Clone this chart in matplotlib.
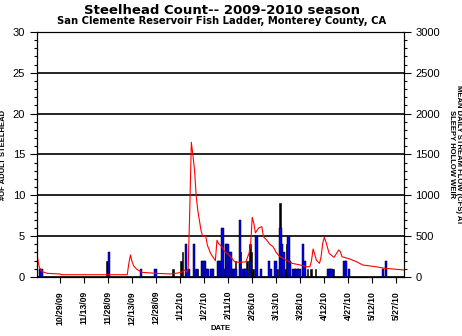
import datetime as dt
import matplotlib
matplotlib.use("Agg")
import matplotlib.pyplot as plt
import matplotlib.dates as mdates
from matplotlib.ticker import MultipleLocator

plt.rcParams['font.family'] = ['Liberation Sans', 'DejaVu Sans']

# ---- data ----
# black bar series (fish count per day)
black_dates = ["2009-11-28", "2010-01-08", "2010-01-13", "2010-01-14", "2010-01-17",
               "2010-01-22", "2010-01-23", "2010-02-16", "2010-02-19", "2010-02-23",
               "2010-02-25", "2010-02-26", "2010-02-27", "2010-03-14", "2010-03-16",
               "2010-03-19", "2010-03-20", "2010-03-31", "2010-04-02", "2010-04-04",
               "2010-04-07", "2010-04-18"]
black_counts = [2, 1, 2, 3, 1,
                1, 1, 2, 3, 2,
                4, 3, 1, 1, 9,
                1, 4, 1, 1, 1,
                1, 1]

# blue bar series
blue_dates = ["2009-10-16", "2009-10-17", "2009-11-28", "2009-12-18", "2009-12-27",
              "2010-01-15", "2010-01-17", "2010-01-20", "2010-01-22", "2010-01-25",
              "2010-01-26", "2010-01-27", "2010-01-28", "2010-01-29", "2010-01-31",
              "2010-02-01", "2010-02-04", "2010-02-05", "2010-02-06", "2010-02-07",
              "2010-02-08", "2010-02-09", "2010-02-10", "2010-02-11", "2010-02-12",
              "2010-02-13", "2010-02-14", "2010-02-15", "2010-02-18", "2010-02-20",
              "2010-02-21", "2010-02-22", "2010-02-24", "2010-02-28", "2010-03-03",
              "2010-03-08", "2010-03-09", "2010-03-12", "2010-03-15", "2010-03-16",
              "2010-03-17", "2010-03-20", "2010-03-21", "2010-03-23", "2010-03-24",
              "2010-03-25", "2010-03-26", "2010-03-27", "2010-03-29", "2010-03-30",
              "2010-04-14", "2010-04-15", "2010-04-16", "2010-04-24", "2010-04-25",
              "2010-04-27", "2010-05-18", "2010-05-20"]
blue_counts = [1, 1, 3, 1, 1,
               4, 1, 4, 1, 2,
               2, 2, 1, 1, 1,
               1, 2, 2, 2, 6,
               1, 4, 4, 3, 3,
               1, 1, 1, 7, 1,
               1, 1, 2, 5, 1,
               2, 1, 2, 6, 4,
               3, 5, 2, 1, 1,
               1, 1, 1, 4, 2,
               1, 1, 1, 2, 2,
               1, 1, 2]

# mean daily stream flow (cfs)
flow_dates = ["2009-10-15", "2009-10-16", "2009-10-17", "2009-10-18", "2009-10-21",
              "2009-10-29", "2009-10-30", "2009-12-10", "2009-12-11", "2009-12-12",
              "2009-12-13", "2009-12-14", "2009-12-16", "2009-12-19", "2009-12-28",
              "2010-01-06", "2010-01-11", "2010-01-13", "2010-01-15", "2010-01-16",
              "2010-01-17", "2010-01-18", "2010-01-19", "2010-01-20", "2010-01-21",
              "2010-01-22", "2010-01-23", "2010-01-25", "2010-01-26", "2010-01-28",
              "2010-01-29", "2010-01-31", "2010-02-02", "2010-02-03", "2010-02-04",
              "2010-02-05", "2010-02-07", "2010-02-09", "2010-02-12", "2010-02-15",
              "2010-02-18", "2010-02-22", "2010-02-24", "2010-02-25", "2010-02-26",
              "2010-02-27", "2010-02-28", "2010-03-02", "2010-03-04", "2010-03-05",
              "2010-03-07", "2010-03-09", "2010-03-11", "2010-03-13", "2010-03-15",
              "2010-03-19", "2010-03-23", "2010-03-28", "2010-04-01", "2010-04-03",
              "2010-04-04", "2010-04-05", "2010-04-06", "2010-04-07", "2010-04-09",
              "2010-04-10", "2010-04-11", "2010-04-12", "2010-04-13", "2010-04-15",
              "2010-04-18", "2010-04-20", "2010-04-21", "2010-04-22", "2010-04-23",
              "2010-04-28", "2010-05-02", "2010-05-06", "2010-05-14", "2010-05-20",
              "2010-05-27", "2010-06-01"]
flow_cfs = [240, 126, 86, 65, 45,
            37, 28, 28, 167, 270,
            190, 135, 94, 57, 45,
            37, 50, 60, 86, 60,
            90, 800, 1650, 1490, 1310,
            1000, 820, 575, 500, 500,
            390, 290, 230, 200, 450,
            410, 370, 310, 257, 187,
            180, 185, 290, 390, 730,
            660, 540, 600, 616, 494,
            453, 400, 371, 300, 255,
            208, 167, 147, 126, 126,
            200, 343, 280, 208, 167,
            250, 412, 486, 430, 290,
            241, 300, 331, 310, 249,
            220, 188, 147, 126, 106,
            94, 86]

tick_labels = ["10/29/09", "11/13/09", "11/28/09", "12/13/09", "12/28/09",
               "1/12/10", "1/27/10", "2/11/10", "2/26/10", "3/13/10",
               "3/28/10", "4/12/10", "4/27/10", "5/12/10", "5/27/10"]


def to_num(strs):
    return [mdates.date2num(dt.datetime.strptime(s, "%Y-%m-%d")) for s in strs]


bx = to_num(black_dates)
ux = to_num(blue_dates)
fx = to_num(flow_dates)
tick_pos = [mdates.date2num(dt.datetime.strptime(t, "%m/%d/%y")) for t in tick_labels]

fig = plt.figure(figsize=(4.62, 3.36), dpi=100)
ax = fig.add_axes([0.080, 0.1756, 0.794, 0.7292])

ax.bar([x - 0.45 for x in bx], black_counts, width=1.1, color='black',
       edgecolor='black', linewidth=0.4, zorder=2)
ax.bar([x + 0.55 for x in ux], blue_counts, width=1.5, color='#0000ff',
       edgecolor='black', linewidth=0.35, zorder=2)

ax.set_xlim(tick_pos[0] - 14.35, tick_pos[0] + 214.6)
ax.set_ylim(0, 30)
ax.yaxis.set_major_locator(MultipleLocator(5))
ax.yaxis.set_minor_locator(MultipleLocator(1))
ax.grid(axis='y', which='major', color='black', linewidth=1.2, zorder=0)
ax.set_axisbelow(True)
ax.set_xticks(tick_pos)
ax.set_xticklabels(tick_labels, rotation=90, fontsize=6.2, fontweight='bold')
ax.tick_params(axis='x', length=4, width=0.8, pad=6)
ax.tick_params(axis='y', which='major', length=5, width=0.8, labelsize=8)
ax.tick_params(axis='y', which='minor', length=2.5, width=0.8)
ax.set_ylabel("#OF ADULT STEELHEAD", fontsize=5.5, fontweight='bold', labelpad=4)
for s in ax.spines.values():
    s.set_linewidth(0.8)
fig.text(0.477, 0.012, "DATE", ha='center', va='bottom', fontsize=5.5, fontweight='bold')

# flow on the right axis
ax2 = ax.twinx()
ax2.plot(fx, flow_cfs, color='red', linewidth=0.8)
ax2.set_ylim(0, 3000)
ax2.yaxis.set_major_locator(MultipleLocator(500))
ax2.yaxis.set_minor_locator(MultipleLocator(100))
ax2.tick_params(axis='y', which='major', length=5, width=0.8, labelsize=8)
ax2.tick_params(axis='y', which='minor', length=2.5, width=0.8)
ax2.set_ylabel("MEAN DAILY STREAM FLOW (CFS) AT\nSLEEPY HOLLOW WEIR", fontsize=5.5,
               fontweight='bold', rotation=270, labelpad=16, linespacing=1.0)

fig.text(0.48, 0.958, "Steelhead Count-- 2009-2010 season", ha='center',
         fontsize=9.5, fontweight='bold', family='DejaVu Sans')
fig.text(0.48, 0.928, "San Clemente Reservoir Fish Ladder, Monterey County, CA",
         ha='center', fontsize=7.2, fontweight='bold', family='DejaVu Sans')

fig.savefig("out.png", dpi=100)
